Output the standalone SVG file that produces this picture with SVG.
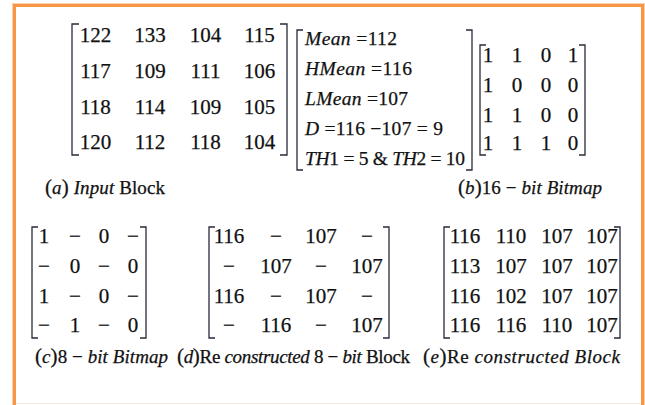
<svg xmlns="http://www.w3.org/2000/svg" width="645" height="405" viewBox="0 0 645 405">
<style>
text{font-family:"Liberation Serif","Times New Roman",serif;fill:#111;stroke:#111;stroke-width:0.25;}
.m{font-size:21px;text-anchor:middle;}
.s{font-size:19.5px;}
.c{font-size:19px;}
.i{font-style:italic;}
.p{font-size:21px;}
.br{fill:none;stroke:#2a2a3a;stroke-width:1.3;}
</style>
<rect x="0" y="0" width="645" height="405" fill="#ffffff"/>
<rect x="14.5" y="5.5" width="628" height="410" fill="none" stroke="#f79646" stroke-width="3"/>
<rect x="12.5" y="3.5" width="632" height="414" fill="none" stroke="#fbd0ad" stroke-width="1"/>
<line x1="16" y1="403.5" x2="641" y2="403.5" stroke="#fde6d6" stroke-width="1"/>

<g id="input-block">
<path class="br" d="M79 24H72V155H79M280 24H287V155H280"/>
<text class="m" x="95.5" y="42">122</text><text class="m" x="150" y="42">133</text><text class="m" x="205.5" y="42">104</text><text class="m" x="259.5" y="42">115</text>
<text class="m" x="95.5" y="78">117</text><text class="m" x="150" y="78">109</text><text class="m" x="205.5" y="78">111</text><text class="m" x="259.5" y="78">106</text>
<text class="m" x="95.5" y="113.5">118</text><text class="m" x="150" y="113.5">114</text><text class="m" x="205.5" y="113.5">109</text><text class="m" x="259.5" y="113.5">105</text>
<text class="m" x="95.5" y="149">120</text><text class="m" x="150" y="149">112</text><text class="m" x="205.5" y="149">118</text><text class="m" x="259.5" y="149">104</text>
<text class="c" x="45" y="194" textLength="120"><tspan class="p">(</tspan><tspan class="i">a</tspan><tspan class="p">)</tspan> <tspan class="i">Input</tspan> Block</text>
</g>

<g id="stats">
<path class="br" d="M303 30H297V170H303M466 30H472V170H466"/>
<text class="s" x="305" y="45" textLength="92"><tspan class="i">Mean</tspan> =112</text>
<text class="s" x="305" y="75" textLength="107"><tspan class="i">HMean</tspan> =116</text>
<text class="s" x="305" y="105" textLength="103"><tspan class="i">LMean</tspan> =107</text>
<text class="s" x="305" y="135" textLength="138"><tspan class="i">D</tspan> =116 −107 = 9</text>
<text class="s" x="305" y="165" textLength="160"><tspan class="i">TH</tspan>1 = 5 &amp; <tspan class="i">TH</tspan>2 = 10</text>
</g>

<g id="bitmap16">
<path class="br" d="M486 45H480V155H486M579 45H585V155H579"/>
<text class="m" x="488" y="62">1</text><text class="m" x="517" y="62">1</text><text class="m" x="546" y="62">0</text><text class="m" x="573" y="62">1</text>
<text class="m" x="488" y="92">1</text><text class="m" x="517" y="92">0</text><text class="m" x="546" y="92">0</text><text class="m" x="573" y="92">0</text>
<text class="m" x="488" y="122">1</text><text class="m" x="517" y="122">1</text><text class="m" x="546" y="122">0</text><text class="m" x="573" y="122">0</text>
<text class="m" x="488" y="150">1</text><text class="m" x="517" y="150">1</text><text class="m" x="546" y="150">1</text><text class="m" x="573" y="150">0</text>
<text class="c" x="458" y="194" textLength="144"><tspan class="p">(</tspan><tspan class="i">b</tspan><tspan class="p">)</tspan>16 − <tspan class="i">bit Bitmap</tspan></text>
</g>

<g id="bitmap8">
<path class="br" d="M38 227H32V338H38M140 227H146V338H140"/>
<text class="m" x="44" y="243">1</text><text class="m" x="75" y="243">−</text><text class="m" x="104" y="243">0</text><text class="m" x="133" y="243">−</text>
<text class="m" x="44" y="273">−</text><text class="m" x="75" y="273">0</text><text class="m" x="104" y="273">−</text><text class="m" x="133" y="273">0</text>
<text class="m" x="44" y="303">1</text><text class="m" x="75" y="303">−</text><text class="m" x="104" y="303">0</text><text class="m" x="133" y="303">−</text>
<text class="m" x="44" y="332">−</text><text class="m" x="75" y="332">1</text><text class="m" x="104" y="332">−</text><text class="m" x="133" y="332">0</text>
<text class="c" x="35" y="363" textLength="133"><tspan class="p">(</tspan><tspan class="i">c</tspan><tspan class="p">)</tspan>8 − <tspan class="i">bit Bitmap</tspan></text>
</g>

<g id="recon8">
<path class="br" d="M215 227H209V338H215M383 227H389V338H383"/>
<text class="m" x="229" y="243">116</text><text class="m" x="276" y="243">−</text><text class="m" x="321" y="243">107</text><text class="m" x="367" y="243">−</text>
<text class="m" x="229" y="273">−</text><text class="m" x="276" y="273">107</text><text class="m" x="321" y="273">−</text><text class="m" x="367" y="273">107</text>
<text class="m" x="229" y="303">116</text><text class="m" x="276" y="303">−</text><text class="m" x="321" y="303">107</text><text class="m" x="367" y="303">−</text>
<text class="m" x="229" y="332">−</text><text class="m" x="276" y="332">116</text><text class="m" x="321" y="332">−</text><text class="m" x="367" y="332">107</text>
<text class="c" x="177" y="363" textLength="233"><tspan class="p">(</tspan><tspan class="i">d</tspan><tspan class="p">)</tspan>Re <tspan class="i">constructed</tspan> 8 − <tspan class="i">bit</tspan> Block</text>
</g>

<g id="recon">
<path class="br" d="M450 227H444V338H450M614 227H620V338H614"/>
<text class="m" x="465" y="243">116</text><text class="m" x="511" y="243">110</text><text class="m" x="557" y="243">107</text><text class="m" x="602" y="243">107</text>
<text class="m" x="465" y="273">113</text><text class="m" x="511" y="273">107</text><text class="m" x="557" y="273">107</text><text class="m" x="602" y="273">107</text>
<text class="m" x="465" y="303">116</text><text class="m" x="511" y="303">102</text><text class="m" x="557" y="303">107</text><text class="m" x="602" y="303">107</text>
<text class="m" x="465" y="332">116</text><text class="m" x="511" y="332">116</text><text class="m" x="557" y="332">110</text><text class="m" x="602" y="332">107</text>
<text class="c" x="423" y="363" textLength="197"><tspan class="p">(</tspan><tspan class="i">e</tspan><tspan class="p">)</tspan>Re <tspan class="i">constructed Block</tspan></text>
</g>
</svg>
